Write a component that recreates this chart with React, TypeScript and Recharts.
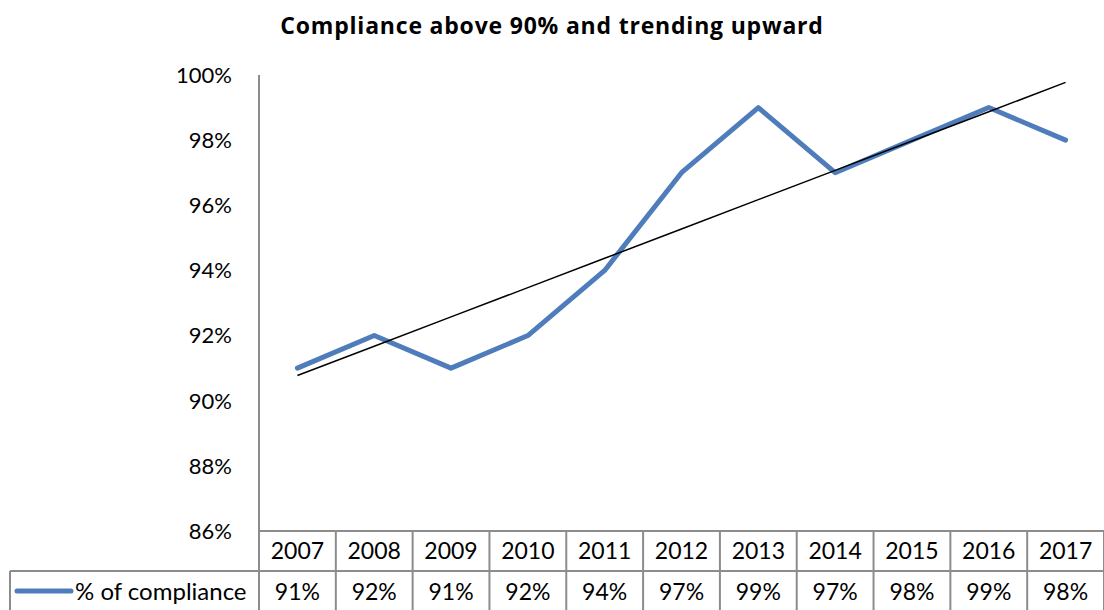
import { LineChart, Line, XAxis, YAxis } from 'recharts';

const years = ['2007', '2008', '2009', '2010', '2011', '2012', '2013', '2014', '2015', '2016', '2017'];
const compliance = [91, 92, 91, 92, 94, 97, 99, 97, 98, 99, 98];
const yTicks = [86, 88, 90, 92, 94, 96, 98, 100];
const seriesName = '% of compliance';
const title = 'Compliance above 90% and trending upward';

const W = 1104;
const H = 610;
const PLOT_LEFT = 259;
const PLOT_TOP = 75;
const TABLE_H = 79;
const BAND = (W - PLOT_LEFT) / years.length;
const GRID = '#8c8c8c';
const BLUE = '#4F7DBB';
const FONT = 'Lato, "Open Sans", sans-serif';

// linear trendline (least squares), like Excel's
function trend(values: number[]) {
    const n = values.length;
    const mx = (n - 1) / 2;
    const my = values.reduce((a, b) => a + b, 0) / n;
    let num = 0;
    let den = 0;
    values.forEach((v, i) => {
        num += (i - mx) * (v - my);
        den += (i - mx) * (i - mx);
    });
    const slope = num / den;
    return values.map((_, i) => my + slope * (i - mx));
}

const trendValues = trend(compliance);
const data = years.map((y, i) => ({ year: y, value: compliance[i], trend: trendValues[i] }));

function TableTick(props: any) {
    const { x, y, payload } = props;
    const i = payload.index;
    const left = x - BAND / 2;
    const right = x + BAND / 2;
    const mid = y + 40;
    const bottom = y + TABLE_H;
    return (
        <g>
            {i === 0 && (
                <g>
                    <line x1={left} y1={y} x2={left} y2={bottom} stroke={GRID} strokeWidth={2} />
                    <line x1={10} y1={mid} x2={left} y2={mid} stroke={GRID} strokeWidth={2} />
                    <line x1={10} y1={mid} x2={10} y2={bottom} stroke={GRID} strokeWidth={2} />
                    <line x1={17} y1={mid + 20} x2={71} y2={mid + 20} stroke={BLUE} strokeWidth={5} strokeLinecap="round" />
                    <text x={75} y={mid + 29} fontSize={24} fontFamily={FONT} fill="#000">{seriesName}</text>
                </g>
            )}
            <line x1={right} y1={y} x2={right} y2={bottom} stroke={GRID} strokeWidth={2} />
            <line x1={left} y1={mid} x2={right} y2={mid} stroke={GRID} strokeWidth={2} />
            <text x={x} y={y + 28} textAnchor="middle" fontSize={23} fontFamily={FONT} fill="#000">{payload.value}</text>
            <text x={x} y={mid + 29} textAnchor="middle" fontSize={23} fontFamily={FONT} fill="#000">{compliance[i]}%</text>
        </g>
    );
}

export default function App() {
    return (
        <div style={{ position: 'absolute', left: 0, top: 0, width: W, height: H, background: '#fff' }}>
            <div style={{ position: 'absolute', left: 0, top: 14, width: W, textAlign: 'center', fontFamily: '"Open Sans", sans-serif', fontWeight: 'bold', fontSize: 23, lineHeight: '23px', letterSpacing: '0.8px', color: '#000' }}>
                {title}
            </div>
            <LineChart width={W} height={H} data={data} margin={{ top: PLOT_TOP, right: 0, left: 0, bottom: 0 }}>
                <XAxis
                    dataKey="year"
                    padding={{ left: BAND / 2, right: BAND / 2 }}
                    height={TABLE_H}
                    tickLine={false}
                    tickSize={0}
                    tickMargin={0}
                    interval={0}
                    stroke={GRID}
                    axisLine={{ stroke: GRID, strokeWidth: 2 }}
                    tick={<TableTick />}
                />
                <YAxis
                    domain={[86, 100]}
                    ticks={yTicks}
                    width={PLOT_LEFT}
                    tickLine={false}
                    tickSize={0}
                    tickMargin={27}
                    axisLine={{ stroke: GRID, strokeWidth: 2 }}
                    tickFormatter={(v: number) => v + '%'}
                    tick={{ fontSize: 22, fontFamily: FONT, fill: '#000' }}
                />
                <Line dataKey="value" stroke={BLUE} strokeWidth={5} strokeLinecap="round" strokeLinejoin="round" dot={false} isAnimationActive={false} />
                <Line dataKey="trend" stroke="#000" strokeWidth={1.5} dot={false} isAnimationActive={false} />
            </LineChart>
        </div>
    );
}
